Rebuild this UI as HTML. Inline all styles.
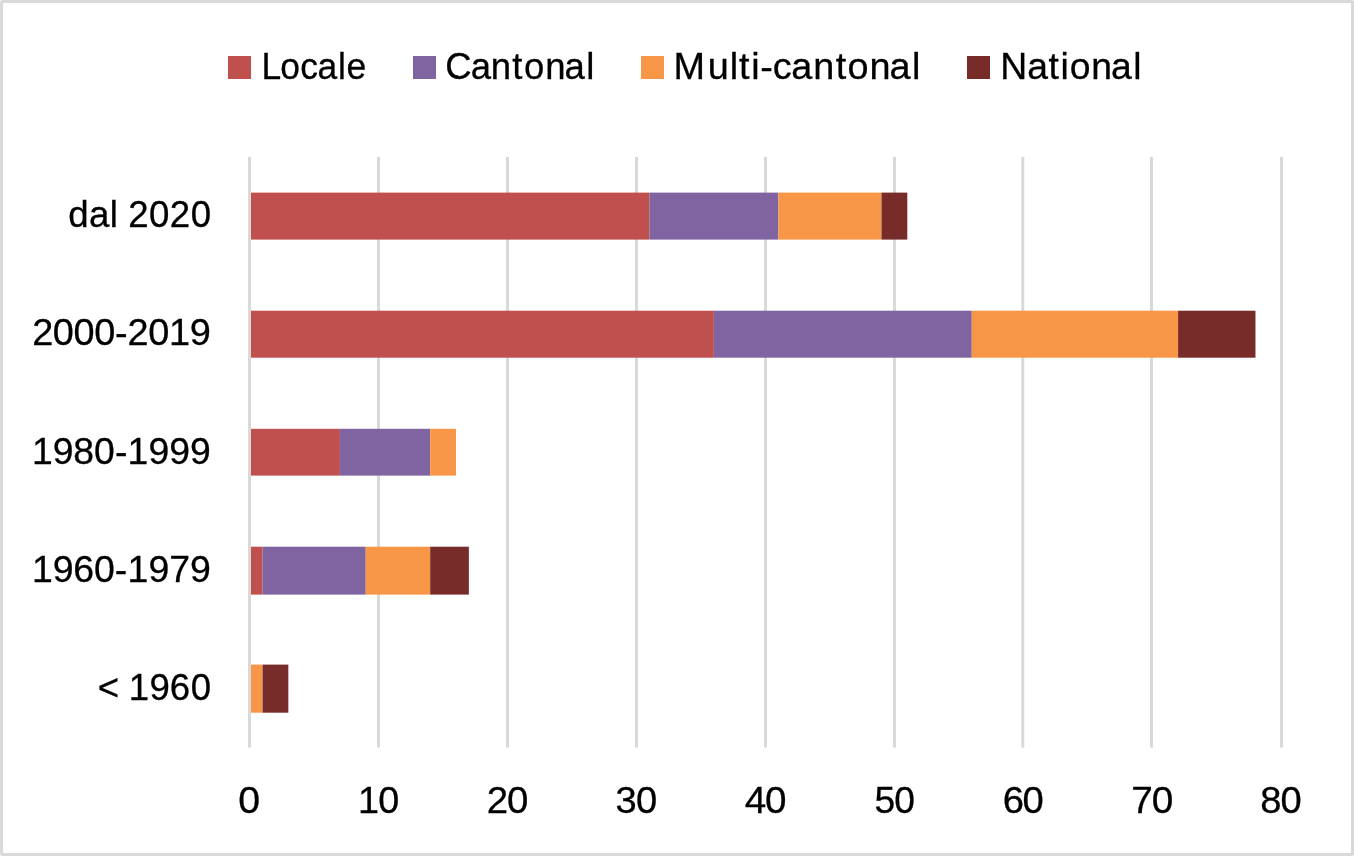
<!DOCTYPE html>
<html lang="it"><head><meta charset="utf-8"><title>Chart</title>
<style>
html,body{margin:0;padding:0;background:#fff;}
body{width:1354px;height:856px;overflow:hidden;position:relative;}
#frame{position:absolute;left:0;top:0;width:1348px;height:850px;border:3px solid #D9D9D9;border-radius:2px;background:#fff;}
svg{position:absolute;left:0;top:0;display:block;}
text{font-family:"Liberation Sans",sans-serif;font-size:37.3px;fill:#000;stroke:#000;stroke-width:0.3px;}
</style></head><body>
<div id="frame"></div>
<svg width="1354" height="856" viewBox="0 0 1354 856">
<g fill="#D9D9D9">
<rect x="248" y="156.8" width="3.0" height="590.8"/>
<rect x="377" y="156.8" width="3.0" height="590.8"/>
<rect x="506" y="156.8" width="3.0" height="590.8"/>
<rect x="635" y="156.8" width="3.0" height="590.8"/>
<rect x="764" y="156.8" width="3.0" height="590.8"/>
<rect x="893" y="156.8" width="3.0" height="590.8"/>
<rect x="1021.3" y="156.8" width="3.0" height="590.8"/>
<rect x="1150" y="156.8" width="3.0" height="590.8"/>
<rect x="1280" y="156.8" width="3.0" height="590.8"/>
</g>
<rect x="251.00" y="192.6" width="398.39" height="47.0" fill="#C0504D"/>
<rect x="649.39" y="192.6" width="128.95" height="47.0" fill="#8064A2"/>
<rect x="778.34" y="192.6" width="103.16" height="47.0" fill="#F79646"/>
<rect x="881.50" y="192.6" width="25.79" height="47.0" fill="#772C2A"/>
<rect x="251.00" y="310.7" width="462.87" height="47.0" fill="#C0504D"/>
<rect x="713.87" y="310.7" width="257.90" height="47.0" fill="#8064A2"/>
<rect x="971.77" y="310.7" width="206.32" height="47.0" fill="#F79646"/>
<rect x="1178.09" y="310.7" width="77.37" height="47.0" fill="#772C2A"/>
<rect x="251.00" y="428.8" width="88.92" height="46.8" fill="#C0504D"/>
<rect x="339.92" y="428.8" width="90.26" height="46.8" fill="#8064A2"/>
<rect x="430.18" y="428.8" width="25.79" height="46.8" fill="#F79646"/>
<rect x="251.00" y="546.7" width="11.55" height="47.9" fill="#C0504D"/>
<rect x="262.55" y="546.7" width="103.16" height="47.9" fill="#8064A2"/>
<rect x="365.70" y="546.7" width="64.48" height="47.9" fill="#F79646"/>
<rect x="430.18" y="546.7" width="38.69" height="47.9" fill="#772C2A"/>
<rect x="251.00" y="664.6" width="11.55" height="48.1" fill="#F79646"/>
<rect x="262.55" y="664.6" width="25.79" height="48.1" fill="#772C2A"/>
<rect x="228" y="56" width="23" height="23" fill="#C0504D"/>
<rect x="413" y="56" width="23" height="23" fill="#8064A2"/>
<rect x="641" y="56" width="23" height="23" fill="#F79646"/>
<rect x="967" y="56" width="23" height="23" fill="#772C2A"/>
<text transform="scale(0.9493,1)" x="275.46 295.34 316.43 334.37 355.98 365.09" y="79.5">Locale</text>
<text transform="scale(0.9786,1)" x="455.07 481.10 501.60 523.49 535.52 557.17 576.90 599.03" y="79.5">Cantonal</text>
<text transform="scale(1.0139,1)" x="664.37 697.99 719.72 728.88 740.87 749.82 762.15 780.34 802.01 824.20 835.96 857.56 877.23 899.54" y="79.5">Multi-cantonal</text>
<text transform="scale(0.9998,1)" x="1000.43 1027.46 1048.66 1060.66 1069.87 1091.51 1111.26 1133.42" y="79.5">National</text>
<text transform="scale(0.9822,1)" x="69.40 90.70 111.68 120.31 130.54 151.72 172.83 194.12" y="227">dal 2020</text>
<text transform="scale(1.0165,1)" x="31.62 51.87 72.30 92.73 113.23 125.44 145.88 166.20 186.72" y="345">2000-2019</text>
<text transform="scale(1.0000,1)" x="31.96 52.83 73.26 94.03 114.91 127.57 148.52 169.32 190.12" y="464">1980-1999</text>
<text transform="scale(1.0046,1)" x="31.80 52.57 72.90 93.57 114.36 126.94 147.78 168.50 189.16" y="582">1960-1979</text>
<text transform="scale(0.9803,1)" x="99.66 120.96 131.29 152.43 173.29 194.52" y="700">&lt; 1960</text>
<text transform="scale(1.0528,1)" x="226.23" y="813.0">0</text>
<text transform="scale(1.0120,1)" x="353.78 373.80" y="813.0">10</text>
<text transform="scale(1.0303,1)" x="472.44 492.20" y="813.0">20</text>
<text transform="scale(1.0211,1)" x="602.85 622.88" y="813.0">30</text>
<text transform="scale(1.0358,1)" x="718.90 738.50" y="813.0">40</text>
<text transform="scale(0.9974,1)" x="876.66 896.66" y="813.0">50</text>
<text transform="scale(1.0241,1)" x="979.09 998.51" y="813.0">60</text>
<text transform="scale(1.0396,1)" x="1088.18 1107.93" y="813.0">70</text>
<text transform="scale(1.0224,1)" x="1232.70 1252.40" y="813.0">80</text>
</svg>
</body></html>
